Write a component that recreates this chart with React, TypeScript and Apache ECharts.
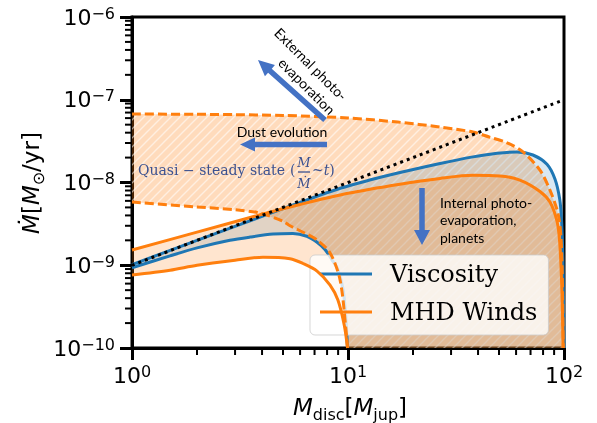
import React, { useEffect, useRef } from 'react';
import * as echarts from 'echarts';

const BLUE = '#1f77b4';
const ORANGE = '#ff7f0e';
const ARROW = '#4472c4';
const X_MIN = 1;
const X_MAX = 100;
const Y_MIN = 1e-10;
const Y_MAX = 1e-6;

// Viscosity (blue) envelope
const viscUpperX = [1, 2, 4, 6, 9.2, 12.6, 17.4, 26.7, 37.9, 49, 60.6, 71.8, 83.4, 90.8, 95.5, 97.5, 99, 100];
const viscUpperY = [1.02e-9, 2.0e-9, 3.89e-9, 5.75e-9, 8.51e-9, 1.07e-8, 1.32e-8, 1.7e-8, 2.04e-8, 2.26e-8, 2.34e-8, 2.15e-8, 1.66e-8, 1.1e-8, 6.3e-9, 3.4e-9, 1.0e-9, 1e-10];
const viscLowerX = [1, 1.5, 2, 2.84, 3.52, 4.5, 5.56, 6.45, 7.19, 7.82, 8.42, 9.0, 9.5, 9.79, 9.95];
const viscLowerY = [9.33e-10, 1.3e-9, 1.62e-9, 2.0e-9, 2.19e-9, 2.38e-9, 2.42e-9, 2.24e-9, 1.9e-9, 1.55e-9, 1.17e-9, 8.71e-10, 5.01e-10, 2.19e-10, 1e-10];

// MHD winds (orange) envelope
const mhdUpperX = [1, 2, 3.91, 6, 10, 17.4, 26.7, 37.9, 50.6, 62.5, 77.4, 86.1, 92.8, 95.5, 97.5, 98.6, 99.1];
const mhdUpperY = [1.53e-9, 2.51e-9, 4.07e-9, 5.43e-9, 7.41e-9, 9.55e-9, 1.12e-8, 1.22e-8, 1.2e-8, 1.07e-8, 7.8e-9, 5.8e-9, 3.4e-9, 1.9e-9, 6.3e-10, 2.0e-10, 1e-10];
const mhdLowerX = [1, 1.5, 2, 3, 4.04, 5.39, 6.19, 7.19, 8.26, 8.98, 9.6, 9.95];
const mhdLowerY = [7.62e-10, 8.71e-10, 1.0e-9, 1.15e-9, 1.25e-9, 1.2e-9, 1.05e-9, 8.5e-10, 5.75e-10, 3.8e-10, 1.91e-10, 1e-10];

// Quasi-steady-state (dashed, hatched) envelope
const qssUpperX = [1, 2, 3, 5, 10, 17, 26.7, 37.9, 45, 54.5, 64.6, 77.4, 86.1, 92.8, 95, 96.8, 98, 98.6, 99.2];
const qssUpperY = [6.73e-8, 6.67e-8, 6.61e-8, 6.46e-8, 6.03e-8, 5.37e-8, 4.68e-8, 4.07e-8, 3.55e-8, 3.02e-8, 2.34e-8, 1.41e-8, 8.1e-9, 4.7e-9, 3.55e-9, 2.2e-9, 1.0e-9, 3.8e-10, 1e-10];
const qssLowerX = [1, 2, 3, 3.91, 5, 5.39, 6.3, 7.19, 8.26, 9.19, 9.79, 9.95];
const qssLowerY = [5.81e-9, 5.06e-9, 4.68e-9, 4.28e-9, 3.4e-9, 3.0e-9, 2.45e-9, 2.02e-9, 1.41e-9, 6.64e-10, 1.66e-10, 1e-10];

// M/Mdot ~ t reference line
const refX = [1, 100];
const refY = [1e-9, 1e-7];

const SERIES_NAMES = ['Viscosity', 'MHD Winds'];
const MINOR_MULT = [2, 3, 4, 5, 6, 7, 8, 9];
const X_DECADES = [1, 10];
const Y_DECADES = [1e-10, 1e-9, 1e-8, 1e-7];

const pairs = (xs: number[], ys: number[]) => xs.map((x, i) => [x, ys[i]]);

function arrowPts(tx: number, ty: number, hx: number, hy: number, sw: number, hl: number, hw: number) {
  const dx = hx - tx, dy = hy - ty, L = Math.hypot(dx, dy);
  const ux = dx / L, uy = dy / L, nx = -uy, ny = ux;
  const bx = hx - ux * hl, by = hy - uy * hl;
  return [
    [tx + nx * sw / 2, ty + ny * sw / 2],
    [bx + nx * sw / 2, by + ny * sw / 2],
    [bx + nx * hw / 2, by + ny * hw / 2],
    [hx, hy],
    [bx - nx * hw / 2, by - ny * hw / 2],
    [bx - nx * sw / 2, by - ny * sw / 2],
    [tx - nx * sw / 2, ty - ny * sw / 2],
  ];
}

function makeHatch() {
  const c = document.createElement('canvas');
  c.width = 9;
  c.height = 9;
  const ctx = c.getContext('2d')!;
  ctx.strokeStyle = 'rgba(255,255,255,0.55)';
  ctx.lineWidth = 1.4;
  ctx.beginPath();
  ctx.moveTo(-1, 10); ctx.lineTo(10, -1);
  ctx.moveTo(-1, 1); ctx.lineTo(1, -1);
  ctx.moveTo(8, 10); ctx.lineTo(10, 8);
  ctx.stroke();
  return c;
}

function band(upX: number[], upY: number[], loX: number[], loY: number[], fills: any[], z: number) {
  const pts = [...pairs(upX, upY), ...pairs(loX, loY).reverse()];
  return {
    type: 'custom',
    coordinateSystem: 'cartesian2d',
    silent: true,
    z,
    data: [[X_MIN, Y_MIN]],
    renderItem: (_p: any, api: any) => {
      const shapePts = pts.map((p) => api.coord(p));
      return {
        type: 'group',
        children: fills.map((f) => ({ type: 'polygon', shape: { points: shapePts }, style: { fill: f } })),
      };
    },
  };
}

function lineSeries(name: string, xs: number[], ys: number[], color: string, width: number, type: any, z: number) {
  return {
    type: 'line',
    name,
    data: pairs(xs, ys),
    symbol: 'none',
    showSymbol: false,
    smooth: 0.3,
    silent: true,
    z,
    lineStyle: { color, width, type, cap: 'butt', join: 'round' },
    itemStyle: { color },
  };
}

const labelRich = {
  b: { fontFamily: 'DejaVu Sans', fontSize: 22, color: '#000', lineHeight: 24 },
  e: { fontFamily: 'DejaVu Sans', fontSize: 16, color: '#000', lineHeight: 16, verticalAlign: 'top' },
};
const powFmt = (v: number) => {
  const e = Math.round(Math.log10(v));
  return `{b|10}{e|${e < 0 ? '\u2212' : ''}${Math.abs(e)}}`;
};

export default function App() {
  const ref = useRef<HTMLDivElement>(null);
  useEffect(() => {
    if (!ref.current) return;
    const chart = echarts.init(ref.current, undefined, { renderer: 'svg' });
    const hatch = { image: makeHatch(), repeat: 'repeat' };

    const xMinor: number[] = [];
    X_DECADES.forEach((d) => MINOR_MULT.forEach((m) => xMinor.push(m * d)));
    const yMinor: number[] = [];
    Y_DECADES.forEach((d) => MINOR_MULT.forEach((m) => yMinor.push(m * d)));

    const textFont = 'Lato';
    const serifBlue = '#3d5290';

    const option: any = {
      animation: false,
      grid: { left: 132, right: 33, top: 17, bottom: 75, show: true, borderColor: '#000', borderWidth: 3, backgroundColor: 'transparent' },
      xAxis: {
        type: 'log', logBase: 10, min: X_MIN, max: X_MAX,
        axisLine: { lineStyle: { color: '#000', width: 3 } },
        axisTick: { length: 12, lineStyle: { color: '#000', width: 3 } },
        splitLine: { show: false },
        axisLabel: { formatter: powFmt, rich: labelRich, margin: 15, showMinLabel: true, showMaxLabel: true },
      },
      yAxis: {
        type: 'log', logBase: 10, min: Y_MIN, max: Y_MAX,
        axisLine: { lineStyle: { color: '#000', width: 3 } },
        axisTick: { length: 12, lineStyle: { color: '#000', width: 3 } },
        splitLine: { show: false },
        axisLabel: { formatter: powFmt, rich: labelRich, margin: 17, showMinLabel: true, showMaxLabel: true },
      },
      legend: {
        data: SERIES_NAMES,
        orient: 'vertical',
        left: 310,
        top: 255,
        icon: 'rect',
        itemWidth: 52,
        itemHeight: 3,
        itemGap: 10,
        padding: [5, 11, 9, 10],
        backgroundColor: 'rgba(255,255,255,0.8)',
        borderColor: 'rgba(204,204,204,0.8)',
        borderWidth: 1,
        borderRadius: 5,
        selectedMode: false,
        textStyle: { fontFamily: 'DejaVu Serif', fontSize: 24, color: '#000', lineHeight: 28, padding: [0, 0, 0, 13] },
      },
      series: [
        band(qssUpperX, qssUpperY, qssLowerX, qssLowerY, ['rgba(255,127,14,0.28)', hatch], 1),
        band(viscUpperX, viscUpperY, viscLowerX, viscLowerY, ['rgba(31,119,180,0.17)'], 1),
        band(mhdUpperX, mhdUpperY, mhdLowerX, mhdLowerY, ['rgba(255,127,14,0.2)'], 1),
        lineSeries('Viscosity', viscUpperX, viscUpperY, BLUE, 3, 'solid', 3),
        lineSeries('Viscosity', viscLowerX, viscLowerY, BLUE, 3, 'solid', 3),
        lineSeries('MHD Winds', mhdUpperX, mhdUpperY, ORANGE, 3, 'solid', 4),
        lineSeries('MHD Winds', mhdLowerX, mhdLowerY, ORANGE, 3, 'solid', 4),
        lineSeries('QSS upper', qssUpperX, qssUpperY, ORANGE, 3, [9, 4], 5),
        lineSeries('QSS lower', qssLowerX, qssLowerY, ORANGE, 3, [9, 4], 5),
        lineSeries('M/Mdot ~ t', refX, refY, '#000', 3, [3, 4], 6),
        {
          type: 'custom', silent: true, z: 7,
          data: xMinor.map((v) => [v, Y_MIN]),
          renderItem: (_p: any, api: any) => {
            const p = api.coord([api.value(0), Y_MIN]);
            return { type: 'line', shape: { x1: p[0], y1: p[1], x2: p[0], y2: p[1] + 7 }, style: { stroke: '#000', lineWidth: 2 } };
          },
        },
        {
          type: 'custom', silent: true, z: 7,
          data: yMinor.map((v) => [X_MIN, v]),
          renderItem: (_p: any, api: any) => {
            const p = api.coord([X_MIN, api.value(1)]);
            return { type: 'line', shape: { x1: p[0] - 7, y1: p[1], x2: p[0], y2: p[1] }, style: { stroke: '#000', lineWidth: 2 } };
          },
        },
      ],
      graphic: [
        // arrows
        { type: 'polygon', z: 20, shape: { points: arrowPts(325, 120, 258, 60, 5.5, 16, 15) }, style: { fill: ARROW } },
        { type: 'polygon', z: 20, shape: { points: arrowPts(327, 144.5, 240, 144.5, 5.5, 15, 14) }, style: { fill: ARROW } },
        { type: 'polygon', z: 20, shape: { points: arrowPts(422, 188, 422, 245, 5.5, 15, 16) }, style: { fill: ARROW } },
        // annotations
        { type: 'text', z: 20, x: 311, y: 64, rotation: -Math.PI / 4, style: { text: 'External photo-', fontFamily: textFont, fontSize: 14, fill: '#000', align: 'center', verticalAlign: 'middle' } },
        { type: 'text', z: 20, x: 307, y: 86, rotation: -Math.PI / 4, style: { text: 'evaporation', fontFamily: textFont, fontSize: 14, fill: '#000', align: 'center', verticalAlign: 'middle' } },
        { type: 'text', z: 20, x: 282, y: 131, style: { text: 'Dust evolution', fontFamily: textFont, fontSize: 14, fill: '#000', align: 'center', verticalAlign: 'middle' } },
        { type: 'text', z: 20, x: 440, y: 219.5, style: { text: 'Internal photo-\nevaporation,\nplanets', fontFamily: textFont, fontSize: 14, lineHeight: 17.5, fill: '#000', align: 'left', verticalAlign: 'middle' } },
        { type: 'text', z: 20, x: 138, y: 170, style: { text: 'Quasi \u2212 steady state', fontFamily: 'DejaVu Serif', fontSize: 14, fill: serifBlue, align: 'left', verticalAlign: 'middle' } },
        { type: 'text', z: 20, x: 290, y: 170, style: { text: '(', fontFamily: 'DejaVu Serif', fontSize: 14, fill: serifBlue, align: 'left', verticalAlign: 'middle' } },
        { type: 'text', z: 20, x: 304, y: 162, style: { text: 'M', fontFamily: 'DejaVu Serif', fontStyle: 'italic', fontSize: 13, fill: serifBlue, align: 'center', verticalAlign: 'middle' } },
        { type: 'line', z: 20, shape: { x1: 298, y1: 172, x2: 310, y2: 172 }, style: { stroke: serifBlue, lineWidth: 1.3 } },
        { type: 'text', z: 20, x: 304, y: 183, style: { text: '\u1E40', fontFamily: 'DejaVu Serif', fontStyle: 'italic', fontSize: 13, fill: serifBlue, align: 'center', verticalAlign: 'middle' } },
        { type: 'text', z: 20, x: 312, y: 170, style: { text: '{n|~}{i|t}{n|)}', rich: { n: { fontFamily: 'DejaVu Serif', fontSize: 14, fill: serifBlue }, i: { fontFamily: 'DejaVu Serif', fontStyle: 'italic', fontSize: 14, fill: serifBlue } }, align: 'left', verticalAlign: 'middle' } },
        // axis titles
        {
          type: 'text', z: 20, x: 31, y: 183, rotation: Math.PI / 2,
          style: {
            text: '{i|\u1E40}{n|[}{i|M}{s|\u2299}{n|/yr]}', align: 'center', verticalAlign: 'middle',
            rich: {
              i: { fontFamily: 'DejaVu Sans', fontStyle: 'italic', fontSize: 23, fill: '#000', lineHeight: 30 },
              n: { fontFamily: 'DejaVu Sans', fontSize: 23, fill: '#000', lineHeight: 30 },
              s: { fontFamily: 'DejaVu Sans', fontSize: 16, fill: '#000', lineHeight: 16, verticalAlign: 'bottom' },
            },
          },
        },
        {
          type: 'text', z: 20, x: 350, y: 407,
          style: {
            text: '{i|M}{s|disc}{n|[}{i|M}{s|jup}{n|]}', align: 'center', verticalAlign: 'middle',
            rich: {
              i: { fontFamily: 'DejaVu Sans', fontStyle: 'italic', fontSize: 23, fill: '#000', lineHeight: 30 },
              n: { fontFamily: 'DejaVu Sans', fontSize: 23, fill: '#000', lineHeight: 30 },
              s: { fontFamily: 'DejaVu Sans', fontSize: 16, fill: '#000', lineHeight: 16, verticalAlign: 'bottom' },
            },
          },
        },
      ],
    };
    chart.setOption(option);
    return () => chart.dispose();
  }, []);
  return <div ref={ref} style={{ position: 'fixed', left: 0, top: 0, width: 597, height: 423 }} />;
}
